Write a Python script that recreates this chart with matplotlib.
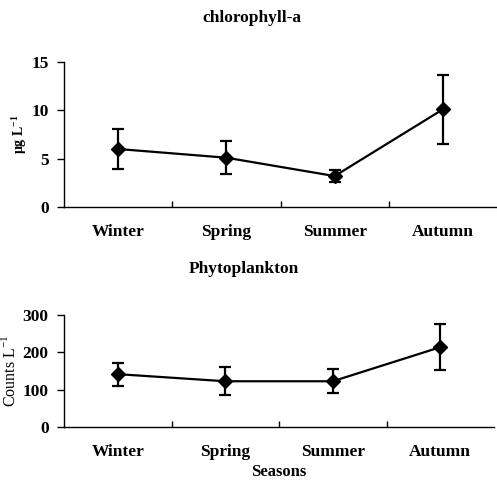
import matplotlib
matplotlib.use("Agg")
import matplotlib.pyplot as plt

plt.rcParams['font.family'] = ['Liberation Serif', 'DejaVu Serif']
plt.rcParams['mathtext.fontset'] = 'custom'
plt.rcParams['mathtext.rm'] = 'Liberation Serif'
plt.rcParams['mathtext.bf'] = 'Liberation Serif:bold'

seasons = ["Winter", "Spring", "Summer", "Autumn"]
chl_mean = [6.0, 5.1, 3.2, 10.1]
chl_err = [2.05, 1.7, 0.65, 3.55]
phy_mean = [142, 123, 123, 214]
phy_err = [31, 38, 32, 62]

fig = plt.figure(figsize=(4.97, 4.8), dpi=100)
ax1 = fig.add_axes([64/497, 1-207/480, 433/497, 145/480])
ax2 = fig.add_axes([64/497, 1-427.3/480, 430/497, 112.3/480])

def style(ax, ymax, step):
    x = list(range(len(seasons)))
    ax.set_xlim(-0.5, len(seasons) - 0.5)
    ax.set_ylim(0, ymax)
    ax.set_yticks(list(range(0, ymax + 1, step)))
    ax.spines['top'].set_visible(False)
    ax.spines['right'].set_visible(False)
    for s in ['left', 'bottom']:
        ax.spines[s].set_linewidth(1.0)
    ax.set_xticks([0.5, 1.5, 2.5])
    ax.set_xticklabels([])
    ax.tick_params(axis='x', which='major', direction='in', length=4, width=1)
    ax.set_xticks(x, seasons, minor=True)
    ax.tick_params(axis='x', which='minor', length=0, pad=12, labelsize=12.5)
    for lab in ax.get_xticklabels(minor=True):
        lab.set_fontweight('bold')
    ax.tick_params(axis='y', direction='out', length=5, width=1, labelsize=12.5, pad=6)
    for lab in ax.get_yticklabels():
        lab.set_fontweight('bold')

def draw(ax, mean, err):
    ax.errorbar(range(len(seasons)), mean, yerr=err, color='black', marker='D',
                markersize=7, linewidth=1.6, elinewidth=1.6, capsize=4.5, capthick=1.6)

style(ax1, 15, 5)
draw(ax1, chl_mean, chl_err)
ax1.set_ylabel(r'$\mathbf{\mu}$g L$^{\mathbf{-1}}$', fontsize=10, fontweight='bold')
ax1.yaxis.set_label_coords((29 - 64) / 433, 0.5)
fig.text(252/497, 1-18/480, 'chlorophyll-a', ha='center', va='center', fontsize=12.5, fontweight='bold')

style(ax2, 300, 100)
draw(ax2, phy_mean, phy_err)
ax2.set_ylabel(r'Counts L$^{-1}$', fontsize=11.5)
ax2.yaxis.set_label_coords((19 - 64) / 430, 0.5)
ax2.set_xlabel('Seasons', fontsize=12, fontweight='bold')
ax2.xaxis.set_label_coords(0.5, (427.3 - 464) / 112.3)
fig.text(244/497, 1-269/480, 'Phytoplankton', ha='center', va='center', fontsize=12.5, fontweight='bold')

fig.savefig('out.png', dpi=100)
